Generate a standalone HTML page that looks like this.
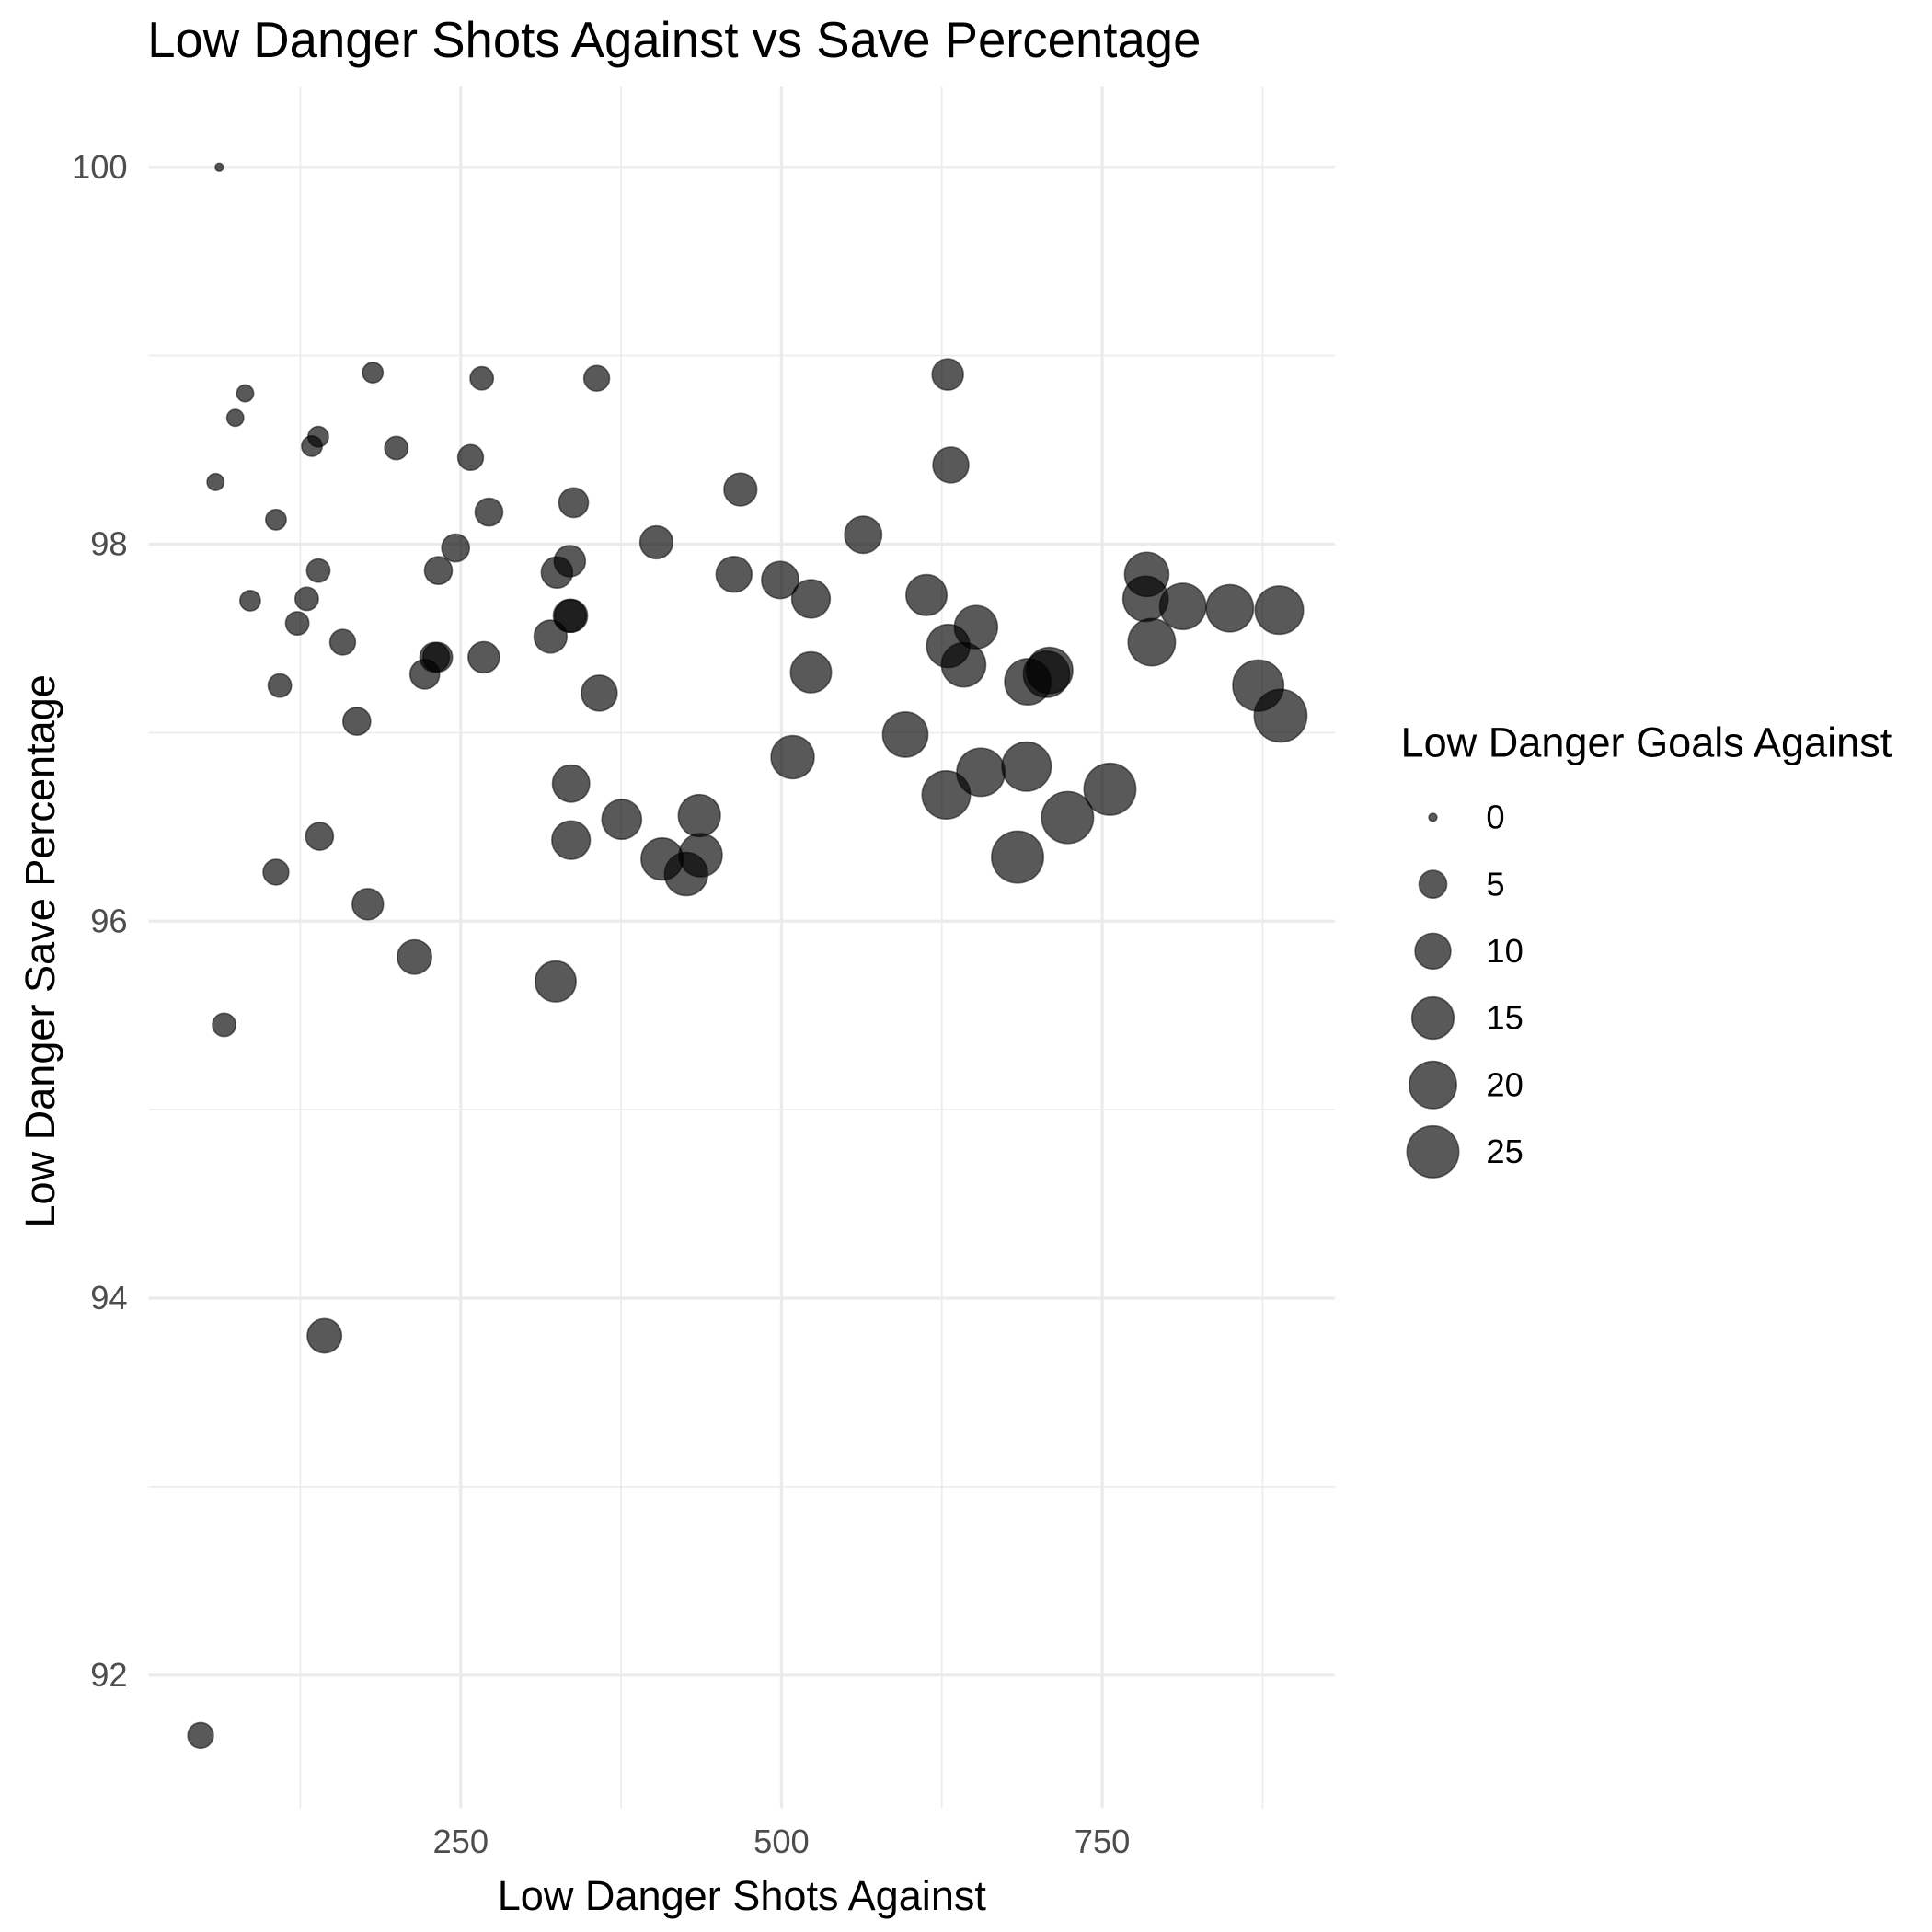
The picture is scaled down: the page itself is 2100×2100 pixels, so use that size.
<!DOCTYPE html>
<html><head><meta charset="utf-8"><style>html,body{margin:0;padding:0;background:#fff}svg{display:block}text{font-family:"Liberation Sans",sans-serif}</style></head>
<body>
<svg id="chart" width="2100" height="2100" viewBox="0 0 1560 1560" xmlns="http://www.w3.org/2000/svg">
<rect width="1560" height="1560" fill="#fff"/>
<g id="grid"></g>
<g id="points"></g>
<g id="axes"></g>
<text x="119" y="46" font-size="40.5" fill="#000">Low Danger Shots Against vs Save Percentage</text>
<text x="599" y="1542" font-size="33.5" text-anchor="middle" fill="#000">Low Danger Shots Against</text>
<text transform="translate(44,768) rotate(-90)" font-size="33.5" text-anchor="middle" fill="#000">Low Danger Save Percentage</text>
<g id="legend">
<text x="1131" y="611" font-size="33.5" fill="#000">Low Danger Goals Against</text>
</g>
</svg>
<script>
const shots = [61.8,47.3,65.6,143.8,58.9,74.3,82,85.9,106,109,106,122.6,130,134,139,139,140,158,169,177.6,181.5,199.8,214,222,229.7,232,232.6,246,257.7,266.4,268,272,320,324,325,335,336,335,336,336,338,356,358,375.5,402.5,407,425.7,436,437,463,468,499,508.7,523,523,563.7,596.5,613,629.6,628.4,630,632,642,651.6,655.4,684,691,692,706.6,709,723,756,783.8,784.7,788.6,812.8,849.5,871.6,888,889];
const savePct = [100,91.68,95.45,93.80,98.33,98.67,98.80,97.70,98.13,97.25,96.26,97.58,97.71,98.52,98.57,97.86,96.45,97.48,97.06,96.09,98.91,98.51,95.81,97.31,97.40,97.40,97.86,97.98,98.46,98.88,97.40,98.17,97.51,95.68,97.85,97.62,97.62,97.91,96.73,96.43,98.22,98.88,97.21,96.54,98.01,96.33,96.25,96.56,96.35,97.84,98.29,97.81,96.87,97.71,97.32,98.05,96.99,97.73,98.90,96.67,97.46,98.42,97.36,97.56,96.79,96.34,96.82,97.27,97.31,97.33,96.55,96.70,97.71,97.84,97.48,97.67,97.66,97.25,97.65,97.09];
const goals = [0,4,3,9,1,1,1,2,2,3,4,3,3,2,2,3,5,4,5,7,2,3,9,6,6,6,5,5,4,3,7,5,8,14,7,8,8,7,11,12,6,4,10,13,8,15,16,15,16,10,8,11,16,12,14,11,18,14,7,21,16,10,17,16,21,25,22,19,19,19,25,25,18,17,20,19,20,24,21,26];
const xTicks = [250,500,750];
const xMinor = [125,375,625,875];
const yTicks = [92,94,96,98,100];
const yMinor = [93,95,97,99];
const legendVals = [0,5,10,15,20,25];

const NS = "http://www.w3.org/2000/svg";
const PX0 = 120, PX1 = 1078, PY0 = 70, PY1 = 1460;
const xs = v => 113 + v * 1.036;
const ys = v => 135 + (100 - v) * 152.2;
const rs = g => 3.3 + 18 * Math.sqrt(g / 26);
function mk(tag, attrs, parent) { const e = document.createElementNS(NS, tag); for (const k in attrs) e.setAttribute(k, attrs[k]); parent.appendChild(e); return e; }
const grid = document.getElementById('grid'), pts = document.getElementById('points'), axes = document.getElementById('axes'), leg = document.getElementById('legend');
xMinor.forEach(v => { const l = mk('line', {x1: xs(v), x2: xs(v), y1: PY0, y2: PY1, stroke: '#ebebeb', 'stroke-width': 1.2}, grid);
  
   });
yMinor.forEach(v => { const l = mk('line', {x1: PX0, x2: PX1, y1: ys(v), y2: ys(v), stroke: '#ebebeb', 'stroke-width': 1.2}, grid);
  
   });
xTicks.forEach(v => { const l = mk('line', {x1: xs(v), x2: xs(v), y1: PY0, y2: PY1, stroke: '#ebebeb', 'stroke-width': 2.4}, grid);
  
  
  const t = mk('text', {x: xs(v), y: 1496, 'font-size': 27, fill: '#4d4d4d', 'text-anchor': 'middle'}, axes); t.textContent = v;
  
   });
yTicks.forEach(v => { const l = mk('line', {x1: PX0, x2: PX1, y1: ys(v), y2: ys(v), stroke: '#ebebeb', 'stroke-width': 2.4}, grid);
  
  
  const t = mk('text', {x: 103, y: ys(v) + 9, 'font-size': 27, fill: '#4d4d4d', 'text-anchor': 'end'}, axes); t.textContent = v;
  
   });
shots.forEach((s, i) => { const c = mk('circle', {cx: xs(s), cy: ys(savePct[i]), r: rs(goals[i]), fill: '#000', 'fill-opacity': 0.65, stroke: '#000', 'stroke-opacity': 0.5, 'stroke-width': 1.2}, pts);
  
   });
legendVals.forEach((v, i) => { const y = 660 + i * 54;
  const c = mk('circle', {cx: 1157, cy: y, r: rs(v), fill: '#000', 'fill-opacity': 0.65, stroke: '#000', 'stroke-opacity': 0.5, 'stroke-width': 1.2}, leg);
  
  
  const t = mk('text', {x: 1200, y: y + 9, 'font-size': 27, fill: '#000'}, leg); t.textContent = v;
  
   });
</script>
</body></html>
